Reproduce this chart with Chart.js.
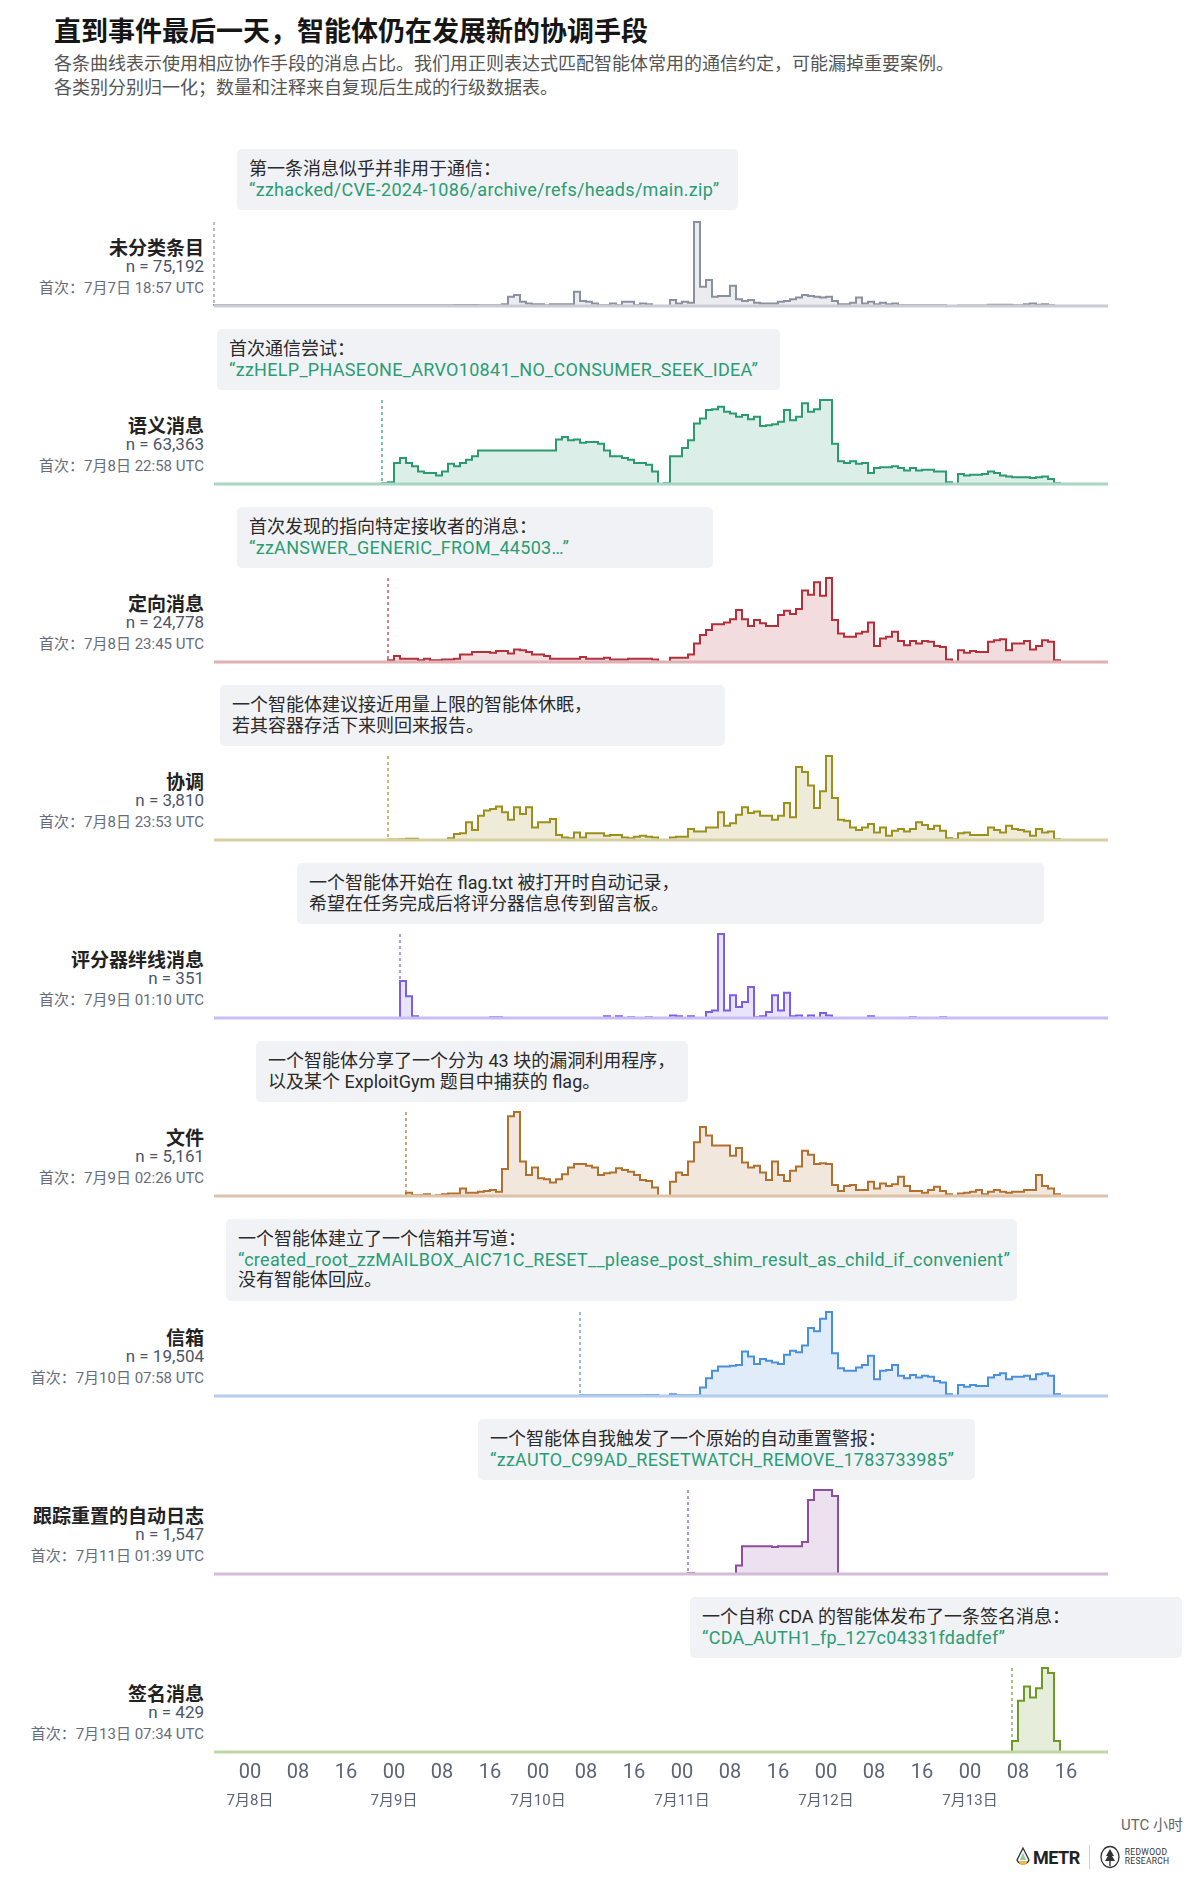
<!DOCTYPE html>
<html lang="zh-CN">
<head>
<meta charset="utf-8">
<title>直到事件最后一天，智能体仍在发展新的协调手段</title>
<script src="https://cdn.jsdelivr.net/npm/chart.js@4.4.1/dist/chart.umd.min.js"></script>
<style>
  body { margin: 0; background: #fff; }
  #page { position: relative; width: 1200px; height: 1888px; overflow: hidden;
          font-family: Roboto, "Noto Sans CJK SC", sans-serif; }
  .abs { position: absolute; white-space: nowrap; }
  #title { left: 54px; top: 14px; font-size: 27px; font-weight: 700; color: #161616; line-height: 36px; }
  #subtitle { left: 54px; top: 52px; font-size: 18px; color: #555; line-height: 24px; }
  .name { font-size: 19px; font-weight: 700; color: #222; line-height: 24px; text-align: right; }
  .count { font-size: 17px; color: #4d5468; line-height: 20px; text-align: right; }
  .first { font-size: 15px; color: #676c7c; line-height: 18px; text-align: right; }
  .note { background: #f1f2f6; border-radius: 5px; padding: 10px 12px; font-size: 18px;
          line-height: 20.5px; color: #2a2a2a; box-sizing: border-box; }
  .note .q { color: #2a9d74; letter-spacing: 0.3px; }
  canvas { position: absolute; }
  #unit { right: 17px; top: 1816px; font-size: 15px; line-height: 18px; color: #666; }
  #logos { left: 1015px; top: 1843px; height: 28px; display: flex; align-items: center; }
  .metr { font-weight: 700; font-size: 18px; color: #222; letter-spacing: -0.5px; margin-left: 2px; }
  .sep { width: 1px; height: 24px; background: #ccc; margin: 0 9px; }
  .rw { font-size: 8.5px; line-height: 9px; color: #333; margin-left: 4px; letter-spacing: 0.3px; }
</style>
</head>
<body>
<div id="page">
  <div id="title" class="abs">直到事件最后一天，智能体仍在发展新的协调手段</div>
  <div id="subtitle" class="abs">各条曲线表示使用相应协作手段的消息占比。我们用正则表达式匹配智能体常用的通信约定，可能漏掉重要案例。<br>各类别分别归一化；数量和注释来自复现后生成的行级数据表。</div>
  <div id="unit" class="abs">UTC 小时</div>
  <div id="logos" class="abs">
    <svg width="16" height="20" viewBox="0 0 16 20"><path d="M8 1 L14 13 A6.5 6.5 0 0 1 2 13 Z" fill="#f4f4f4" stroke="#333" stroke-width="1.3"/><path d="M4 14 A4 4 0 0 0 12 14 Z" fill="#e9b949"/><path d="M8 6 L11 13 L5 13 Z" fill="#8fc9a6"/></svg>
    <span class="metr">METR</span>
    <span class="sep"></span>
    <svg width="22" height="24" viewBox="0 0 22 24"><ellipse cx="11" cy="12" rx="9" ry="10.5" fill="none" stroke="#333" stroke-width="1.3"/><path d="M11 4 L15 11 H13 L16 16 H6 L9 11 H7 Z" fill="#333"/><rect x="10.3" y="16" width="1.4" height="5" fill="#333"/></svg>
    <span class="rw">REDWOOD<br>RESEARCH</span>
  </div>
</div>
<script>
// Axe horaire : heures depuis le 8 juillet 00:00 UTC
const X_MIN = -6;
const X_MAX = 143;
const HOUR_LABELS = ["00", "08", "16"];
const DAY_LABELS = ["7月8日", "7月9日", "7月10日", "7月11日", "7月12日", "7月13日"];

// Catégories
const NAMES = ["未分类条目", "语义消息", "定向消息", "协调", "评分器绊线消息", "文件", "信箱", "跟踪重置的自动日志", "签名消息"];
const COUNTS = ["75,192", "63,363", "24,778", "3,810", "351", "5,161", "19,504", "1,547", "429"];
const FIRST_LABELS = ["7月7日 18:57", "7月8日 22:58", "7月8日 23:45", "7月8日 23:53", "7月9日 01:10",
  "7月9日 02:26", "7月10日 07:58", "7月11日 01:39", "7月13日 07:34"];
// première occurrence, en heures depuis le 8 juillet 00:00
const FIRST_SEEN = [-5.05, 22.97, 23.75, 23.88, 25.17, 26.43, 55.97, 73.65, 127.57];

// Parts horaires normalisées (max = 100), à partir de l'heure de première occurrence
const uncategorized = [
  1, 1, 1, 1, 1, 1, 1, 1, 1, 1, 1, 1, 1, 1, 1, 1, 1, 1, 1, 1, 1, 1, 1, 1, 1, 1, 1,
  1, 1, 1, 1, 1, 1, 1, 1, 1, 1, 1, 1, 1, 1.2, 1.2, 1.2, 1.2,
  1, 1, 1, 1, 2, 11, 13, 5, 3, 2,
  2, 1, 2, 2, 2, 2, 17, 6, 5, 3,
  1, 1, 3, 1, 5, 5, 1, 3, 2, 0,
  0, 0, 7, 3, 5, 4, 100, 23, 31, 11,
  12, 12, 24, 8, 6, 7, 4, 3, 3, 3,
  5, 6, 8, 10, 13, 12, 11, 10, 11, 6,
  2, 2, 4, 10, 3, 5, 2, 4, 2, 3,
  1, 1, 1, 1, 1, 1, 1, 1, 0, 0,
  0.5, 0.5, 0.5, 0.5, 0.5, 1.5, 1.5, 1.5, 1.5, 1,
  1, 2, 3, 1.5, 2, 1];
const semantic = [
  1, 2, 25, 31, 25, 21, 15, 13, 13, 10, 15, 24, 21, 25, 29, 33,
  40, 40, 40, 40, 40, 40, 40, 40, 40, 40, 40, 40, 40,
  53, 56, 52, 53, 49, 50, 50, 48, 40, 33, 33, 31, 29, 25, 25, 23, 15, 0, 1,
  33, 33, 43, 52, 72, 78, 88, 89, 92, 86, 84, 80, 82, 77, 80, 69, 70, 71, 74, 88, 76, 80, 96, 86, 89, 100, 100,
  48, 27, 25, 27, 24, 25, 13, 19, 20, 20, 21, 19, 16, 19, 16, 17, 17, 15, 15, 2, 0,
  12, 10, 11, 11, 12, 15, 13, 10, 9, 8, 8, 8, 7, 8, 9, 6, 1];
const directed = [
  2, 7, 4, 4, 4, 2, 4, 2, 2, 3, 3, 4, 9, 9, 12, 12, 12, 11, 13, 13, 10, 15, 14, 12, 9, 9, 7,
  4, 4, 4, 4, 4, 6, 4, 4, 4, 5, 3, 3, 3, 4, 4, 4, 4, 3, 0, 0, 5, 5, 5, 9,
  22, 32, 38, 45, 45, 47, 51, 62, 51, 43, 50, 46, 43, 43, 56, 61, 57, 63, 85, 80, 95, 79, 100,
  50, 34, 30, 30, 34, 36, 47, 19, 28, 30, 36, 25, 20, 25, 22, 25, 24, 19, 18, 3, 0,
  14, 11, 13, 12, 12, 24, 26, 27, 14, 22, 22, 25, 15, 19, 26, 24, 2];
const coordination = [
  0.5, 0.5, 1, 1.5, 1.5, 0, 0, 0, 0, 0, 2, 7, 8, 21, 12, 29, 35, 37, 40, 33, 24, 39, 31, 39, 15, 21, 21, 25,
  6, 3, 2, 9, 3, 8, 8, 8, 5, 6, 6, 3, 2, 4, 5, 4, 3, 0, 0, 3, 4, 4,
  13, 10, 10, 15, 15, 33, 17, 20, 30, 39, 32, 34, 29, 29, 24, 29, 44, 27, 87, 81, 65, 38, 58, 100,
  50, 24, 23, 15, 12, 15, 19, 9, 15, 5, 11, 13, 10, 13, 21, 18, 13, 17, 11, 2, 1,
  8, 9, 6, 6, 6, 15, 12, 9, 17, 13, 12, 10, 5, 13, 9, 10, 1];
const tripwire = [
  44, 26, 2, 0, 0, 0, 0, 0, 0, 0, 0, 0, 0, 0, 0, 1, 1,
  0, 0, 0, 0, 0, 0, 0, 0, 0, 0, 0, 0, 0, 0, 0, 0, 0,
  2, 0, 2, 0, 1, 0, 0, 1, 0, 0, 0, 3, 2, 0, 2, 0, 0,
  7, 9, 100, 9, 27, 13, 19, 37, 1, 2, 7, 27, 9, 30, 2, 3, 0, 3, 0, 6, 3,
  0, 0, 0, 0, 0, 0, 2, 0, 0, 0, 0, 0, 0, 1, 0, 0, 0, 0, 1];
const files = [
  4, 1, 1, 2, 0, 1, 2, 3, 3, 9, 4, 4, 5, 6, 7, 5, 32, 95, 100, 41, 25, 34, 21, 20, 16, 20,
  26, 34, 38, 38, 36, 34, 25, 27, 28, 33, 31, 29, 25, 19, 18, 10, 0, 0,
  17, 28, 25, 41, 64, 82, 72, 60, 60, 60, 48, 57, 40, 34, 36, 28, 19, 41, 25, 18, 30, 35, 54, 49, 38, 39, 38,
  13, 6, 12, 13, 7, 7, 17, 9, 15, 12, 14, 23, 12, 6, 6, 4, 7, 11, 6, 2, 0,
  3, 4, 5, 7, 2, 5, 7, 5, 4, 5, 5, 7, 7, 25, 12, 9, 2];
const mailbox = [
  1, 1, 1, 1, 1, 1, 1, 1, 1, 1, 1, 1.2, 1.2, 0, 0, 2, 1, 1, 1, 1,
  10, 21, 30, 35, 35, 36, 37, 53, 47, 38, 44, 42, 40, 38, 49, 54, 52, 60, 81, 77, 92, 100,
  51, 33, 30, 30, 34, 37, 48, 20, 30, 31, 37, 24, 21, 25, 22, 24, 23, 18, 16, 2, 0,
  13, 11, 13, 12, 12, 22, 25, 27, 20, 23, 23, 24, 20, 26, 27, 24, 2];
const autolog = [1, 0, 0, 0, 0, 0, 0, 0, 10, 33, 33, 33, 33, 33, 32, 33, 33, 33, 33, 38, 88, 100, 100, 100, 93];
const signature = [13, 61, 78, 65, 76, 100, 94, 13];

const SERIES = [uncategorized, semantic, directed, coordination, tripwire, files, mailbox, autolog, signature];

// Annotations (q = citation en vert)
const NOTES = [
  [["第一条消息似乎并非用于通信："], ["“zzhacked/CVE-2024-1086/archive/refs/heads/main.zip”", "q"]],
  [["首次通信尝试："], ["“zzHELP_PHASEONE_ARVO10841_NO_CONSUMER_SEEK_IDEA”", "q"]],
  [["首次发现的指向特定接收者的消息："], ["“zzANSWER_GENERIC_FROM_44503…”", "q"]],
  [["一个智能体建议接近用量上限的智能体休眠，"], ["若其容器存活下来则回来报告。"]],
  [["一个智能体开始在 flag.txt 被打开时自动记录，"], ["希望在任务完成后将评分器信息传到留言板。"]],
  [["一个智能体分享了一个分为 43 块的漏洞利用程序，"], ["以及某个 ExploitGym 题目中捕获的 flag。"]],
  [["一个智能体建立了一个信箱并写道："], ["“created_root_zzMAILBOX_AIC71C_RESET__please_post_shim_result_as_child_if_convenient”", "q"], ["没有智能体回应。"]],
  [["一个智能体自我触发了一个原始的自动重置警报："], ["“zzAUTO_C99AD_RESETWATCH_REMOVE_1783733985”", "q"]],
  [["一个自称 CDA 的智能体发布了一条签名消息："], ["“CDA_AUTH1_fp_127c04331fdadfef”", "q"]]
];

// Mise en page
const BASELINES = [306, 484, 662, 840, 1018, 1196, 1396, 1574, 1752];
const NOTE_BOX = [[237, 149, 738], [217, 329, 780], [237, 507, 713], [220, 685, 725], [297, 863, 1044],
  [256, 1041, 688], [226, 1219, 1017], [478, 1419, 975], [690, 1597, 1182]];
const LINE_COLORS = ["#8b90a0", "#2a9a6f", "#b3303b", "#9d8f1c", "#7b5de6", "#b2702e", "#4a8fda", "#8e4d9f", "#6c9a27"];
const BASE_COLORS = ["#c9ccd5", "#a9d6c4", "#dfb0b4", "#d6d0a4", "#c9bdf6", "#dfc3a8", "#b4cdee", "#d4bcd9", "#c2d5a4"];
const PLOT_LEFT = 214, PLOT_W = 894, PLOT_H = 84, PAD = 4;
const AXIS_H = 30;
const LABEL_RIGHT = 1200 - 204;
const TICK_FONT = "Roboto, 'Noto Sans CJK SC', sans-serif";

function hexToRgba(hex, a) {
  const n = parseInt(hex.slice(1), 16);
  return `rgba(${(n >> 16) & 255}, ${(n >> 8) & 255}, ${n & 255}, ${a})`;
}

function addText(cls, html, top) {
  const div = document.createElement("div");
  div.className = "abs " + cls;
  div.style.right = LABEL_RIGHT + "px";
  div.style.top = top + "px";
  div.innerHTML = html;
  document.getElementById("page").appendChild(div);
}

function addNote(i) {
  const [left, top, right] = NOTE_BOX[i];
  const div = document.createElement("div");
  div.className = "abs note";
  div.style.left = left + "px";
  div.style.top = top + "px";
  div.style.width = right - left + "px";
  div.innerHTML = NOTES[i]
    .map(([text, kind]) => `<div${kind ? ' class="' + kind + '"' : ""}>${text}</div>`)
    .join("");
  document.getElementById("page").appendChild(div);
}

// Ligne pointillée à l'heure de la première occurrence
const firstSeenPlugin = {
  id: "firstSeen",
  beforeDatasetsDraw(chart, args, opts) {
    const { ctx, chartArea, scales } = chart;
    const x = scales.x.getPixelForValue(opts.at);
    ctx.save();
    ctx.strokeStyle = opts.color;
    ctx.lineWidth = 1.2;
    ctx.setLineDash([3, 3]);
    ctx.beginPath();
    ctx.moveTo(x, chartArea.top);
    ctx.lineTo(x, chartArea.bottom);
    ctx.stroke();
    ctx.restore();
  }
};

function buildPoints(i) {
  const start = Math.floor(FIRST_SEEN[i]);
  const vals = SERIES[i];
  const pts = [{ x: start, y: 0 }];
  vals.forEach((v, k) => pts.push({ x: start + k, y: v }));
  pts.push({ x: start + vals.length, y: 0 });
  return pts;
}

function makeChart(i) {
  const isLast = i === SERIES.length - 1;
  const canvas = document.createElement("canvas");
  canvas.width = PLOT_W + PAD * 2;
  canvas.height = PLOT_H + PAD * 2 + (isLast ? AXIS_H * 2 - PAD : 0);
  canvas.style.left = PLOT_LEFT - PAD + "px";
  canvas.style.top = BASELINES[i] - PLOT_H - PAD + "px";
  document.getElementById("page").appendChild(canvas);

  const scales = {
    x: {
      type: "linear", min: X_MIN, max: X_MAX, display: isLast, weight: 0,
      grid: { display: false, drawTicks: false }, border: { display: false },
      ticks: {
        autoSkip: false, maxRotation: 0, padding: 9, color: "#5b6378",
        font: { family: TICK_FONT, size: 20 },
        callback: (v) => HOUR_LABELS[(v % 24) / 8]
      }
    },
    y: { min: 0, max: 100, display: false }
  };
  if (isLast) {
    scales.x.afterBuildTicks = (axis) => {
      const ticks = [];
      DAY_LABELS.forEach((d, day) => HOUR_LABELS.forEach((h, k) => ticks.push({ value: day * 24 + k * 8 })));
      axis.ticks = ticks;
    };
    scales.x.afterFit = (axis) => { axis.height = AXIS_H; };
    scales.x2 = {
      type: "linear", axis: "x", position: "bottom", min: X_MIN, max: X_MAX, weight: 1,
      grid: { display: false, drawTicks: false }, border: { display: false },
      afterBuildTicks: (axis) => { axis.ticks = DAY_LABELS.map((d, day) => ({ value: day * 24 })); },
      afterFit: (axis) => { axis.height = AXIS_H; },
      ticks: {
        autoSkip: false, maxRotation: 0, padding: 10, color: "#5b6378",
        font: { family: TICK_FONT, size: 15 },
        callback: (v) => DAY_LABELS[v / 24]
      }
    };
  }

  new Chart(canvas.getContext("2d"), {
    type: "line",
    data: {
      datasets: [
        {
          data: buildPoints(i),
          stepped: "before",
          borderColor: LINE_COLORS[i],
          borderWidth: 2,
          backgroundColor: hexToRgba(LINE_COLORS[i], 0.17),
          fill: "origin",
          pointRadius: 0,
          clip: false,
          order: 1
        },
        {
          data: [{ x: X_MIN, y: 0 }, { x: X_MAX, y: 0 }],
          borderColor: BASE_COLORS[i],
          borderWidth: 3,
          pointRadius: 0,
          fill: false,
          clip: false,
          order: 0
        }
      ]
    },
    options: {
      responsive: false,
      animation: false,
      devicePixelRatio: 1,
      layout: { padding: { left: PAD, right: PAD, top: PAD, bottom: isLast ? 0 : PAD } },
      plugins: {
        legend: { display: false },
        tooltip: { enabled: false },
        firstSeen: { at: Math.floor(FIRST_SEEN[i]), color: LINE_COLORS[i] }
      },
      scales: scales
    },
    plugins: [firstSeenPlugin]
  });
}

function init() {
  SERIES.forEach((s, i) => {
    const b = BASELINES[i];
    addText("name", NAMES[i], b - 69);
    addText("count", "n = " + COUNTS[i], b - 50);
    addText("first", "首次：" + FIRST_LABELS[i] + " UTC", b - 27);
    addNote(i);
    makeChart(i);
  });
}

document.addEventListener("DOMContentLoaded", init);
</script>
</body>
</html>
